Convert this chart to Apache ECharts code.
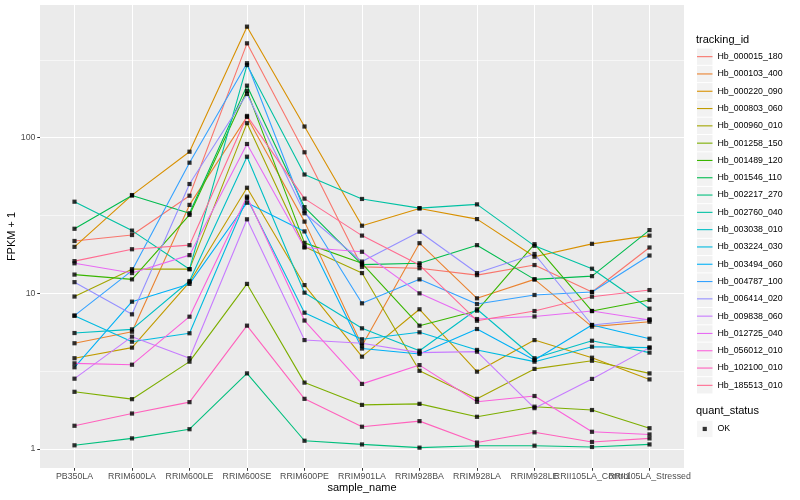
<!DOCTYPE html>
<html>
<head>
<meta charset="utf-8">
<script src="https://cdn.jsdelivr.net/npm/echarts@6/dist/echarts.min.js"></script>
<style>html,body{margin:0;padding:0;background:#fff}#c{width:800px;height:500px}</style>
</head>
<body>
<div id="c"></div>
<script>
const categories = ["PB350LA","RRIM600LA","RRIM600LE","RRIM600SE","RRIM600PE","RRIM901LA","RRIM928BA","RRIM928LA","RRIM928LE","RRII105LA_Control","RRII105LA_Stressed"];
const trackingIds = ["Hb_000015_180","Hb_000103_400","Hb_000220_090","Hb_000803_060","Hb_000960_010","Hb_001258_150","Hb_001489_120","Hb_001546_110","Hb_002217_270","Hb_002760_040","Hb_003038_010","Hb_003224_030","Hb_003494_060","Hb_004787_100","Hb_006414_020","Hb_009838_060","Hb_012725_040","Hb_056012_010","Hb_102100_010","Hb_185513_010"];
const lineColors = ["#F8766D","#EA8331","#D89000","#C09B00","#A3A500","#7CAE00","#39B600","#00BB4E","#00BF7D","#00C1A3","#00BFC4","#00BAE0","#00B0F6","#35A2FF","#9590FF","#C77CFF","#E76BF3","#FA62DB","#FF62BC","#FF6C91"];
const yTickValues = [1, 10, 100];
const yMinorValues = [3.1623, 31.623, 316.23];

// FPKM + 1 per sample, in category order
const Hb_000015_180 = [21.7, 23.7, 42.4, 404, 80.6, 14.8, 14.5, 13.1, 15.2, 10.2, 19.7];
const Hb_000103_400 = [4.78, 5.67, 37.0, 136, 28.9, 4.61, 21.0, 9.29, 12.3, 6.11, 6.57];
const Hb_000220_090 = [19.9, 42.8, 81.3, 517, 118, 27.2, 35.1, 30.0, 17.2, 20.8, 23.5];
const Hb_000803_060 = [3.83, 4.48, 11.8, 47.7, 11.3, 3.92, 7.90, 3.14, 5.01, 3.86, 2.80];
const Hb_000960_010 = [9.54, 14.3, 14.3, 124, 19.9, 13.5, 3.18, 2.10, 3.27, 3.69, 3.06];
const Hb_001258_150 = [2.33, 2.09, 3.64, 11.5, 2.67, 1.92, 1.95, 1.61, 1.87, 1.78, 1.36];
const Hb_001489_120 = [13.2, 12.3, 31.9, 200, 21.1, 15.6, 6.20, 7.74, 20.7, 7.70, 9.07];
const Hb_001546_110 = [26.0, 42.5, 32.7, 216, 35.8, 15.3, 15.6, 20.4, 12.3, 12.9, 25.5];
const Hb_002217_270 = [1.056, 1.17, 1.34, 3.06, 1.13, 1.07, 1.02, 1.05, 1.05, 1.03, 1.07];
const Hb_002760_040 = [38.8, 25.3, 14.3, 293, 58.0, 40.4, 35.3, 37.3, 20.2, 14.4, 7.97];
const Hb_003038_010 = [5.56, 5.87, 12.0, 75.5, 10.1, 5.96, 4.28, 7.90, 3.83, 4.96, 4.16];
const Hb_003224_030 = [7.19, 4.89, 5.54, 40.8, 7.51, 5.07, 5.62, 4.33, 3.64, 4.54, 4.48];
const Hb_003494_060 = [3.35, 8.84, 11.5, 38.2, 25.0, 4.42, 4.08, 5.90, 3.73, 6.26, 5.11];
const Hb_004787_100 = [7.19, 14.0, 69.1, 301, 33.8, 8.63, 12.3, 8.54, 9.76, 10.2, 17.5];
const Hb_006414_020 = [11.8, 7.33, 50.4, 191, 32.7, 16.0, 24.9, 13.5, 17.9, 6.26, 6.81];
const Hb_009838_060 = [2.83, 5.27, 3.83, 29.9, 5.01, 4.78, 4.16, 4.22, 1.83, 2.82, 4.48];
const Hb_012725_040 = [15.6, 13.5, 17.6, 91.1, 19.7, 18.5, 10.0, 6.84, 7.10, 7.70, 6.74];
const Hb_056012_010 = [3.55, 3.48, 7.08, 41.8, 6.69, 2.62, 3.46, 2.01, 2.19, 1.29, 1.24];
const Hb_102100_010 = [1.41, 1.69, 2.00, 6.20, 2.10, 1.39, 1.51, 1.10, 1.28, 1.11, 1.17];
const Hb_185513_010 = [16.1, 19.2, 20.4, 138, 40.6, 23.5, 15.2, 6.67, 7.70, 9.52, 10.5];

const seriesValues = [Hb_000015_180, Hb_000103_400, Hb_000220_090, Hb_000803_060, Hb_000960_010, Hb_001258_150, Hb_001489_120, Hb_001546_110, Hb_002217_270, Hb_002760_040, Hb_003038_010, Hb_003224_030, Hb_003494_060, Hb_004787_100, Hb_006414_020, Hb_009838_060, Hb_012725_040, Hb_056012_010, Hb_102100_010, Hb_185513_010];

const FONT = "'Liberation Sans', Arial, Helvetica, sans-serif";
const lg = v => Math.log10(v);
const xIdx = categories.map((c, i) => i);

const lineSeries = trackingIds.map((id, k) => ({
  name: id,
  type: 'line',
  xAxisIndex: 0, yAxisIndex: 0,
  data: seriesValues[k].map((v, i) => [i, lg(v)]),
  symbol: 'none',
  color: lineColors[k],
  lineStyle: { width: 1.1, color: lineColors[k] },
  emphasis: { disabled: true },
  z: 2
}));
const pointData = [];
seriesValues.forEach(arr => arr.forEach((v, i) => pointData.push([i, lg(v)])));
const pointSeries = {
  name: 'OK', type: 'scatter', data: pointData,
  symbol: 'rect', symbolSize: 4.2, color: '#000000',
  itemStyle: { color: '#000000' }, emphasis: { disabled: true }, z: 3
};

const yMin = -0.1221, yMax = 2.8526;
const legendCommon = {
  orient: 'vertical', left: 697, padding: 0, itemGap: 1,
  itemWidth: 15.5, itemHeight: 16.3, selectedMode: false,
  textStyle: { fontSize: 8.8, color: '#000', fontFamily: FONT }
};

const option = {
  animation: false,
  backgroundColor: '#ffffff',
  textStyle: { fontFamily: FONT },
  grid: [
    { left: 40, top: 5, width: 644, height: 463, show: true, backgroundColor: '#EBEBEB', borderWidth: 0, containLabel: false, outerBoundsMode: 'none' },
    // label band: same panel, category centres placed with ggplot's 0.6-unit expansion
    { left: 45.75, top: 5, width: 632.5, height: 463, show: false, containLabel: false, outerBoundsMode: 'none' }
  ],
  title: [
    { text: 'tracking_id', left: 696, top: 34.5, padding: 0, textStyle: { fontSize: 11, fontWeight: 'normal', color: '#000', fontFamily: FONT } },
    { text: 'quant_status', left: 696, top: 405.5, padding: 0, textStyle: { fontSize: 11, fontWeight: 'normal', color: '#000', fontFamily: FONT } }
  ],
  legend: [
    Object.assign({}, legendCommon, { top: 48.5, z: 1, data: trackingIds.map(n => ({ name: n, icon: 'rect' })), itemStyle: { color: '#F2F2F2', borderWidth: 0 }, textStyle: { fontSize: 8.8, color: 'rgba(0,0,0,0)', fontFamily: FONT } }),
    Object.assign({}, legendCommon, { top: 48.5, z: 3, data: trackingIds.map(n => ({ name: n, icon: 'path://M0,0 M15.5,16.3 M0,7.6 L15.5,7.6 L15.5,8.7 L0,8.7 Z' })), itemStyle: { borderWidth: 0 } }),
    Object.assign({}, legendCommon, { top: 420.8, z: 1, data: [{ name: 'OK', icon: 'rect' }], itemStyle: { color: '#F2F2F2', borderWidth: 0 }, textStyle: { fontSize: 8.8, color: 'rgba(0,0,0,0)', fontFamily: FONT } }),
    Object.assign({}, legendCommon, { top: 420.8, z: 3, data: [{ name: 'OK', icon: 'path://M0,0 M15.5,16.3 M5.65,6.05 L9.85,6.05 L9.85,10.25 L5.65,10.25 Z' }], itemStyle: { borderWidth: 0 } })
  ],
  xAxis: [{
    type: 'value', gridIndex: 0, min: -0.6, max: 10.6, position: 'bottom',
    name: 'sample_name', nameLocation: 'middle', nameGap: 14.5, nameMoveOverlap: false,
    nameTextStyle: { fontSize: 11, color: '#000', fontFamily: FONT },
    axisLine: { show: false, onZero: false },
    axisTick: { show: false, customValues: xIdx },
    axisLabel: { show: false, customValues: xIdx },
    splitLine: { show: true, customValues: xIdx, lineStyle: { color: '#FFFFFF', width: 1.05 } },
    minorSplitLine: { show: false }
  }, {
    type: 'category', gridIndex: 1, data: categories, boundaryGap: true, position: 'bottom',
    axisLine: { show: false, onZero: false },
    axisTick: { show: true, alignWithLabel: true, interval: 0, length: 2.75, lineStyle: { color: '#333333', width: 1.05 } },
    axisLabel: { interval: 0, margin: 4.5, fontSize: 8.8, color: '#4D4D4D', fontFamily: FONT, hideOverlap: false },
    splitLine: { show: false }
  }],
  yAxis: [{
    type: 'value', gridIndex: 0, min: yMin, max: yMax, position: 'left',
    name: 'FPKM + 1', nameLocation: 'middle', nameGap: 23, nameRotate: 90, nameMoveOverlap: false,
    nameTextStyle: { fontSize: 11, color: '#000', fontFamily: FONT },
    axisLine: { show: false, onZero: false },
    axisTick: { show: true, length: 2.75, customValues: yTickValues.map(lg), lineStyle: { color: '#333333', width: 1.05 } },
    axisLabel: { customValues: yTickValues.map(lg), margin: 4.5, fontSize: 8.8, color: '#4D4D4D', fontFamily: FONT, showMinLabel: true, showMaxLabel: true, formatter: v => String(Math.round(Math.pow(10, v))) },
    splitLine: { show: true, customValues: yTickValues.map(lg), lineStyle: { color: '#FFFFFF', width: 1.05 } }
  }, {
    type: 'value', gridIndex: 0, min: yMin, max: yMax, position: 'left',
    axisLine: { show: false, onZero: false },
    axisTick: { show: false, customValues: yMinorValues.map(lg) },
    axisLabel: { show: false, customValues: yMinorValues.map(lg) },
    splitLine: { show: true, customValues: yMinorValues.map(lg), lineStyle: { color: '#FFFFFF', width: 0.55 } }
  }, {
    type: 'value', gridIndex: 1, min: 0, max: 1, show: false
  }],
  series: lineSeries.concat([pointSeries])
};

const chart = echarts.init(document.getElementById('c'), null, { renderer: 'canvas' });
chart.setOption(option);
</script>
</body>
</html>
